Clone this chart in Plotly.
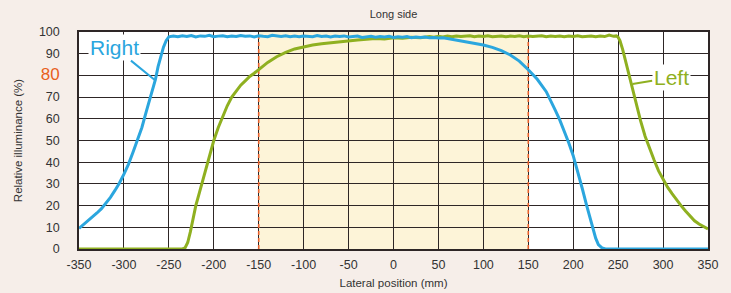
import plotly.graph_objects as go

# ---- data ----
right_x = [-350, -345, -340, -335, -330, -325, -320, -315, -310, -305,
           -300, -295, -290, -285, -280, -275, -270, -265, -262, -259,
           -256, -253, -250,
           -245, -240, -235, -230, -225, -220, -215, -210, -205, -200,
           -195, -190, -185, -180, -175, -170, -165, -160, -155, -150,
           -145, -140, -135, -130, -125, -120, -115, -110, -105, -100,
           -95, -90, -85, -80, -75, -70, -65, -60, -55, -50,
           -45, -40, -35, -30, -25, -20, -15, -10, -5, 0,
           5, 10, 15, 20, 25, 30, 35, 40, 45, 50,
           55, 60, 70, 80, 90, 100, 110, 120, 130, 140,
           150, 160, 170, 175, 180, 185, 190, 195, 200, 205,
           210, 215, 220, 225, 228, 232, 236, 250, 300, 350]
right_y = [9.5, 11.2, 13, 14.8, 16.6, 18.6, 21, 23.8, 27, 30.4,
           34.5, 39, 44.5, 50, 56, 63.5, 71, 78, 84, 88.5,
           93, 96, 97.8,
           98.1, 97.8, 98.3, 97.9, 98.4, 97.7, 98.2, 98.0, 98.5, 97.8,
           98.1, 98.3, 97.8, 98.2, 97.9, 98.4, 98.0, 98.2, 97.7, 98.3,
           98.0, 97.8, 98.5, 98.1, 97.9, 98.3, 97.8, 98.1, 97.8, 98.2,
           98.0, 97.8, 98.4, 97.9, 98.1, 97.7, 98.1, 97.9, 98.2, 97.7,
           97.9, 98.1, 97.5, 97.8, 98.0, 97.6, 97.9, 97.7, 98.0, 97.5,
           97.8, 97.6, 97.9, 97.4, 97.7, 97.5, 97.7, 97.3, 97.5, 97.2,
           97.3, 97.0, 96.3, 95.6, 94.8, 94.0, 92.9, 91.4, 89.4, 86.6,
           82.6, 78.2, 72.5, 68.5, 64, 59.5, 54.5, 49, 43, 36,
           28, 20, 12, 5, 2, 0.5, 0, 0, 0, 0]

left_x = [-350, -300, -250, -235, -232, -229, -226, -223, -220, -216,
          -212, -208, -204, -200, -195, -190, -185, -180, -175, -170,
          -165, -160, -155, -150, -140, -130, -120, -110, -100, -90,
          -80, -70, -60, -50, -40, -30, -20, -10, 0, 10,
          20, 30, 40, 45, 50, 55, 60, 65, 70, 75,
          80, 85, 90, 95, 100, 105, 110, 115, 120, 125,
          130, 135, 140, 145, 150, 155, 160, 165, 170, 175,
          180, 185, 190, 195, 200, 205, 210, 215, 220, 225,
          230, 235, 240, 245, 248, 250, 252, 255, 258, 261,
          264, 267, 270, 275, 280, 285, 290, 295, 300, 305,
          310, 315, 320, 325, 330, 335, 340, 345, 350]
left_y = [0, 0, 0, 0, 0.5, 3, 8, 14, 20, 26,
          32, 38, 45, 50, 56, 61, 66, 70, 73, 75.5,
          77.5, 79.5, 81, 82.8, 86, 88.6, 90.6, 92.2, 93.2, 94,
          94.6, 95.1, 95.6, 96.0, 96.3, 96.7, 97.0, 96.8, 97.3, 97.1,
          97.6, 97.4, 97.9, 97.6, 98.0, 97.7, 98.1, 97.8, 98.2, 97.9,
          98.0, 98.3, 97.8, 98.1, 97.9, 98.3, 97.8, 98.1, 98.2, 97.8,
          98.1, 97.9, 98.3, 97.8, 98.2, 97.9, 98.0, 98.3, 97.8, 98.1,
          97.9, 98.2, 97.8, 98.1, 97.9, 98.3, 97.8, 98.0, 98.2, 97.8,
          98.1, 97.9, 98.6, 98.0, 98.2, 97.6, 96, 92, 87, 82,
          77, 72, 67, 59, 52, 46, 41, 36, 32, 28.5,
          25.5, 22.5, 20, 17.5, 15, 13, 11.5, 10.5, 9.2]

x_ticks = list(range(-350, 351, 50))
y_ticks = list(range(0, 101, 10))
y_tick_text = [str(v) for v in y_ticks]
y_tick_text[8] = "<span style='font-size:17px;color:#e8601c'>80</span>"
shade_range = [-150, 150]

BLUE = "#2ba6de"
GREEN = "#8fb020"
FONT = "Liberation Sans, Arial, sans-serif"

fig = go.Figure()
fig.add_trace(go.Scatter(x=left_x, y=left_y, mode="lines",
                         line=dict(color=GREEN, width=3), hoverinfo="skip"))
fig.add_trace(go.Scatter(x=right_x, y=right_y, mode="lines",
                         line=dict(color=BLUE, width=3), hoverinfo="skip"))

fig.add_shape(type="rect", x0=shade_range[0], x1=shade_range[1], y0=0, y1=100,
              xref="x", yref="y", fillcolor="#fdf4d8", line_width=0, layer="below")
for xv in shade_range:
    fig.add_shape(type="line", x0=xv, x1=xv, y0=0, y1=100, xref="x", yref="y",
                  line=dict(color="#e8602c", width=1.6, dash="4px,3px"), layer="between")

fig.add_annotation(x=-266, y=78, ax=-310, ay=92.8, axref="x", ayref="y",
                   text="Right", showarrow=True, arrowhead=0, arrowwidth=2,
                   arrowcolor=BLUE, bgcolor="white", borderpad=1,
                   font=dict(family=FONT, size=21, color=BLUE))
fig.add_annotation(x=266, y=76, ax=309, ay=79, axref="x", ayref="y",
                   text="Left", showarrow=True, arrowhead=0, arrowwidth=2,
                   arrowcolor=GREEN, bgcolor="white", borderpad=1,
                   font=dict(family=FONT, size=21, color=GREEN))

fig.update_layout(
    width=731, height=293,
    margin=dict(l=79, r=23, t=32, b=44),
    paper_bgcolor="#f6eee9", plot_bgcolor="white",
    showlegend=False,
    font=dict(family=FONT, size=12, color="#333333"),
    title=dict(text="Long side", x=0.5, xref="paper", xanchor="center",
               y=0.952, yref="container", yanchor="middle",
               font=dict(size=11, color="#333333")),
)
fig.update_xaxes(range=[-350, 350], tickvals=x_ticks, ticktext=[str(v) for v in x_ticks],
                 showgrid=True, gridcolor="#2e2626", gridwidth=1.3,
                 showline=True, linecolor="#2e2626", linewidth=1.5, mirror=True,
                 zeroline=False, ticks="", tickfont=dict(size=12.5), ticklabelstandoff=3,
                 automargin=False,
                 title=dict(text="Lateral position (mm)", font=dict(size=11.5), standoff=8))
fig.update_yaxes(range=[0, 100], tickvals=y_ticks, ticktext=y_tick_text,
                 showgrid=True, gridcolor="#2e2626", gridwidth=1.3,
                 showline=True, linecolor="#2e2626", linewidth=1.5, mirror=True,
                 zeroline=False, ticks="", tickfont=dict(size=12.5), ticklabelstandoff=15,
                 automargin=False,
                 title=dict(text="Relative illuminance (%)", font=dict(size=11.5), standoff=14))

fig.write_html("out.html", config={"displayModeBar": False},
               post_script="document.body.style.margin='0';")
